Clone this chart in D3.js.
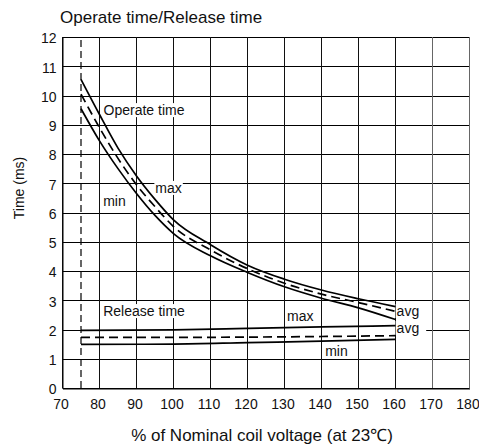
<!DOCTYPE html>
<html><head><meta charset="utf-8">
<script src="https://cdn.jsdelivr.net/npm/d3@7"></script>
<style>body{margin:0;background:#fff} svg{display:block}</style>
</head><body><svg id="c" width="479" height="448"></svg>
<script>
const xTicks = [70,80,90,100,110,120,130,140,150,160,170,180];
const yTicks = [0,1,2,3,4,5,6,7,8,9,10,11,12];
const opVoltage = [75,80,85,90,95,100,110,120,130,140,150,160];
const opMax = [10.55,9.35,8.2,7.25,6.45,5.75,4.9,4.2,3.72,3.35,3.05,2.78];
const opAvg = [10.05,8.9,7.85,6.95,6.2,5.52,4.72,4.08,3.58,3.21,2.92,2.62];
const opMin = [9.55,8.45,7.5,6.65,5.9,5.28,4.52,3.95,3.46,3.07,2.74,2.34];
const relVoltage = [75,100,120,140,160];
const relMax = [1.97,1.99,2.04,2.09,2.13];
const relAvg = [1.73,1.73,1.74,1.76,1.79];
const relMin = [1.49,1.50,1.55,1.60,1.66];
const minVoltage = 75;

const svg = d3.select("#c");
const x = d3.scaleLinear().domain([70,180]).range([62.5,469.5]);
const y = d3.scaleLinear().domain([0,12]).range([388,37]);
const font = "'Liberation Sans', Arial, sans-serif";

// horizontal grid
svg.append("g").selectAll("line").data(yTicks).join("line")
  .attr("x1", x(70)).attr("x2", x(180))
  .attr("y1", d => Math.round(y(d)) + 0.5).attr("y2", d => Math.round(y(d)) + 0.5)
  .attr("stroke", "#000").attr("stroke-width", 1);

// release band mask
const zip = (xs, a, b) => xs.map((v, i) => ({v, hi: a[i], lo: b[i]}));
svg.append("path").datum(zip(relVoltage, relMax, relMin))
  .attr("d", d3.area().x(d => x(d.v)).y0(d => y(d.lo)).y1(d => y(d.hi)).curve(d3.curveMonotoneX))
  .attr("fill", "#fff");

// vertical grid
svg.append("g").selectAll("line").data(xTicks).join("line")
  .attr("x1", d => x(d)).attr("x2", d => x(d))
  .attr("y1", y(0)).attr("y2", y(12))
  .attr("stroke", d => d >= 170 ? "#666" : "#111").attr("stroke-width", 1);

// axes
const xAxis = d3.axisBottom(x).tickValues(xTicks).tickSize(0).tickPadding(11);
const gx = svg.append("g").attr("transform", `translate(0,${Math.round(y(0))+0.5})`).call(xAxis);
gx.select(".domain").attr("stroke", "#000");
gx.selectAll("text").attr("font-family", font).attr("font-size", 14).attr("fill", "#111").attr("dx", "-2");
const yAxis = d3.axisLeft(y).tickValues(yTicks).tickSize(0).tickPadding(6);
const gy = svg.append("g").attr("transform", `translate(${x(70)},0)`).call(yAxis);
gy.select(".domain").attr("stroke", "#000");
gy.selectAll("text").attr("font-family", font).attr("font-size", 14).attr("fill", "#111").attr("dy", "0.42em");

// dashed min voltage line
svg.append("line").attr("x1", x(minVoltage)).attr("x2", x(minVoltage))
  .attr("y1", y(0)).attr("y2", y(12))
  .attr("stroke", "#000").attr("stroke-width", 1.2).attr("stroke-dasharray", "7,4");

// labels
function label(t, vx, vy, opts = {}) {
  const g = svg.append("g");
  const txt = g.append("text").attr("x", x(vx)).attr("y", y(vy))
    .attr("font-family", font).attr("font-size", opts.size || 14).attr("fill", "#111").text(t);
  const b = txt.node().getBBox();
  g.insert("rect", "text").attr("x", b.x - 1).attr("y", b.y + 1).attr("width", b.width + (opts.padR || 2))
    .attr("height", b.height - 2).attr("fill", "#fff");
}
label("Operate time", 81.1, 9.33);
label("max", 95.1, 6.67);
label("min", 81.0, 6.22);
label("Release time", 81.0, 2.46);
label("max", 130.7, 2.29);
label("min", 141.0, 1.09);
label("avg", 160.3, 2.46);
label("avg", 160.3, 1.88, {padR: 8});

// curves
const line = d3.line().x(d => x(d[0])).y(d => y(d[1])).curve(d3.curveMonotoneX);
const pairs = (xs, ys) => xs.map((v, i) => [v, ys[i]]);
const series = [
  [opVoltage, opMax, null], [opVoltage, opAvg, "9,5"], [opVoltage, opMin, null],
  [relVoltage, relMax, null], [relVoltage, relAvg, "9,5"], [relVoltage, relMin, null]
];
series.forEach(([xs, ys, dash]) => {
  svg.append("path").datum(pairs(xs, ys)).attr("d", line)
    .attr("fill", "none").attr("stroke", "#000").attr("stroke-width", 1.7)
    .attr("stroke-dasharray", dash);
});

// titles
svg.append("text").attr("x", 60).attr("y", 23).attr("font-family", font).attr("font-size", 17)
  .attr("fill", "#111").text("Operate time/Release time");
svg.append("text").attr("x", (x(70)+x(180))/2 - 4).attr("y", 441).attr("text-anchor", "middle")
  .attr("font-family", font).attr("font-size", 17).attr("fill", "#111")
  .text("% of Nominal coil voltage (at 23℃)");
svg.append("text").attr("transform", `translate(24,188) rotate(-90)`).attr("text-anchor", "middle")
  .attr("font-family", font).attr("font-size", 14).attr("fill", "#111").text("Time (ms)");
</script></body></html>
